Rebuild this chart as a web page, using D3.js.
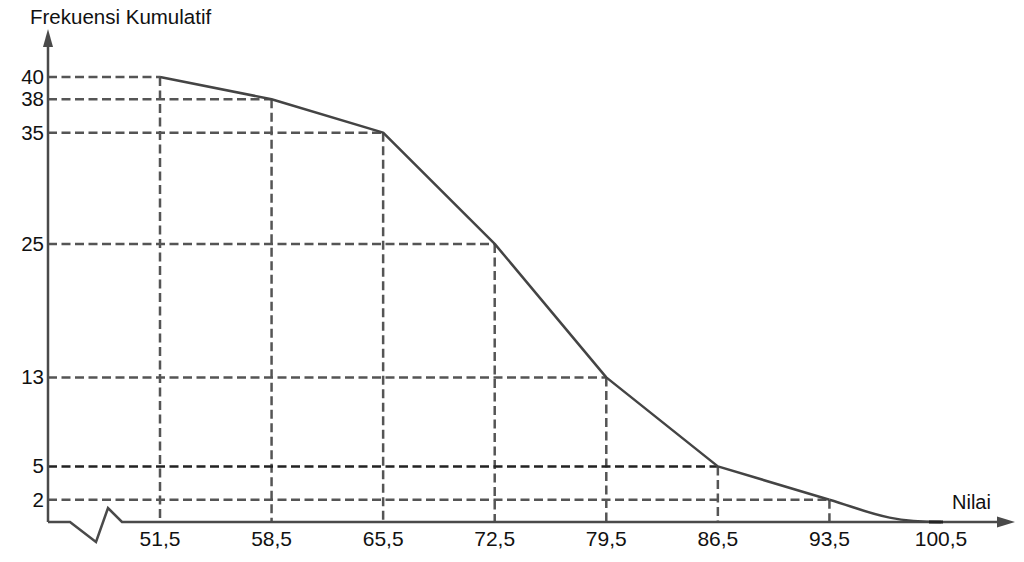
<!DOCTYPE html>
<html><head><meta charset="utf-8">
<script src="https://cdn.jsdelivr.net/npm/d3@7"></script>
<style>body{margin:0;background:#fff}svg{display:block}text{font-family:"Liberation Sans",Arial,sans-serif;fill:#111}</style>
</head><body>
<svg id="c" width="1024" height="562"></svg>
<script>
const nilai = [51.5, 58.5, 65.5, 72.5, 79.5, 86.5, 93.5, 100.5];
const frekKum = [40, 38, 35, 25, 13, 5, 2, 0];
const xLabels = ["51,5","58,5","65,5","72,5","79,5","86,5","93,5","100,5"];
const yTicks = [2, 5, 13, 25, 35, 38, 40];
const yTitle = "Frekuensi Kumulatif";
const xTitle = "Nilai";

const svg = d3.select("#c");
const x = d3.scaleLinear().domain([51.5, 100.5]).range([160, 941]);
const y = d3.scaleLinear().domain([0, 40]).range([522, 77]);
const ax0 = 48, ay0 = y(0);
const axisCol = "#4a4a4a", dashCol = "#555";

const pts = nilai.map((v,i)=>({x:v,y:frekKum[i],l:xLabels[i]}));
pts.forEach(p=>{
  if (p.y>0){
    svg.append("line").attr("x1",ax0).attr("x2",x(p.x)).attr("y1",y(p.y)).attr("y2",y(p.y))
      .attr("stroke", p.y===5?"#222":dashCol).attr("stroke-width",2.5).attr("stroke-dasharray","9,4.5");
    svg.append("line").attr("x1",x(p.x)).attr("x2",x(p.x)).attr("y1",y(p.y)).attr("y2",ay0)
      .attr("stroke",dashCol).attr("stroke-width",2.5).attr("stroke-dasharray","9,4.5");
  }
});

// axes
svg.append("path").attr("d",`M${ax0},${ay0} L70,${ay0} L96,542 L108,508 L122,${ay0} L1000,${ay0}`)
  .attr("fill","none").attr("stroke",axisCol).attr("stroke-width",2.5).attr("stroke-linejoin","miter");
svg.append("line").attr("x1",ax0).attr("x2",ax0).attr("y1",ay0).attr("y2",44).attr("stroke",axisCol).attr("stroke-width",2.5);
svg.append("path").attr("d",`M${ax0},29 L${ax0-5},47 L${ax0+5},47 Z`).attr("fill",axisCol);
svg.append("path").attr("d",`M1015,${ay0} L997,${ay0-5.5} L997,${ay0+5.5} Z`).attr("fill",axisCol);

// polyline
const lin = pts.slice(0, pts.length-1);
svg.append("path").datum(lin)
  .attr("d", d3.line().x(d=>x(d.x)).y(d=>y(d.y)))
  .attr("fill","none").attr("stroke","#444").attr("stroke-width",2.5).attr("stroke-linejoin","round");
// curved tail
const p0 = pts[pts.length-3], p1 = pts[pts.length-2], p2 = pts[pts.length-1];
const sx = x(p1.x)-x(p0.x), sy = y(p1.y)-y(p0.y);
const k = 0.35;
const tail = `M${x(p1.x)},${y(p1.y)} C${x(p1.x)+sx*k},${y(p1.y)+sy*k} ${x(p2.x)-55},${y(p2.y)} ${x(p2.x)},${y(p2.y)}`;
svg.append("path").attr("d",tail).attr("fill","none").attr("stroke","#444").attr("stroke-width",2.5);
svg.append("line").attr("x1",x(p2.x)-12).attr("x2",x(p2.x)+2).attr("y1",y(0)).attr("y2",y(0)).attr("stroke","#222").attr("stroke-width",3);

// labels
yTicks.forEach(t=>{
  svg.append("text").attr("x",44).attr("y",y(t)+7).attr("text-anchor","end").attr("font-size",20.5).text(t);
});
pts.forEach(p=>{
  svg.append("text").attr("x",x(p.x)).attr("y",546).attr("text-anchor","middle").attr("font-size",21).text(p.l);
});
svg.append("text").attr("x",30).attr("y",24).attr("font-size",20.5).text(yTitle);
svg.append("text").attr("x",952).attr("y",509).attr("font-size",20).text(xTitle);
</script>
</body></html>
